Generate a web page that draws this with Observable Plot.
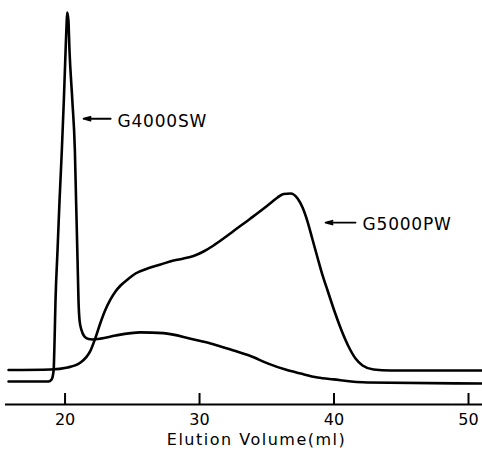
<!DOCTYPE html>
<html>
<head>
<meta charset="utf-8">
<script src="https://cdn.jsdelivr.net/npm/d3@7"></script>
<script src="https://cdn.jsdelivr.net/npm/@observablehq/plot@0.6"></script>
<style>
  html, body { margin: 0; padding: 0; background: #fff; }
  svg { display: block; }
</style>
</head>
<body>
<div id="chart"></div>
<script>
// Elution volume (ml) and detector response (arbitrary units)
const g4000swVolume = [15.80, 18.77, 19.00, 19.15, 19.22, 19.29, 19.44, 19.59, 19.76, 19.91, 20.04, 20.11, 20.16, 20.25, 20.33, 20.54, 20.73, 20.82, 20.93, 21.00, 21.08, 21.23, 21.45, 21.75, 22.04, 22.64, 23.75, 25.61, 27.32, 29.33, 30.07, 30.82, 31.56, 32.53, 33.79, 35.06, 36.39, 37.51, 38.77, 39.96, 42.49, 51.04];
const g4000swResponse = [5.87, 5.87, 6.38, 8.67, 16.3, 26.5, 39.3, 52.0, 64.8, 77.6, 90.3, 96.7, 100, 98.0, 90.3, 77.6, 64.8, 52.0, 36.7, 26.5, 21.4, 18.9, 17.3, 16.7, 16.6, 16.8, 17.6, 18.4, 18.2, 16.8, 16.2, 15.56, 14.8, 13.8, 12.37, 10.5, 8.9, 7.9, 6.9, 6.4, 5.6, 5.36];

const g5000pwVolume = [15.80, 18.92, 20.19, 21.15, 21.90, 22.27, 22.64, 23.01, 23.38, 23.75, 24.13, 24.65, 25.24, 26.13, 27.10, 28.07, 28.81, 29.55, 30.30, 31.04, 31.78, 32.53, 33.79, 35.06, 35.80, 36.25, 36.77, 37.29, 37.66, 38.03, 38.40, 38.77, 39.15, 39.52, 40.04, 40.56, 41.08, 41.60, 42.12, 42.94, 44.20, 51.04];
const g5000pwResponse = [8.8, 8.93, 9.44, 10.7, 13.8, 17.09, 20.92, 24.23, 26.79, 28.83, 30.36, 31.89, 33.42, 34.69, 35.71, 36.73, 37.24, 37.88, 39.03, 40.56, 42.35, 44.26, 47.45, 50.77, 52.81, 53.70, 53.83, 52.55, 50.26, 46.68, 42.09, 37.50, 32.91, 29.08, 23.72, 18.88, 14.80, 11.73, 9.95, 8.93, 8.67, 8.67];

// Axis ticks
const tickValues = [20, 30, 40, 50];
const axisTitle = "Elution Volume(ml)";

// Curve labels with pointer arrows
const labelNames = ["G4000SW", "G5000PW"];
const labelVolume = [23.90, 42.12];
const labelResponse = [72.1, 45.9];
const arrowFromVolume = [23.39, 41.60];
const arrowToVolume = [21.38, 39.37];
const arrowResponse = [72.9, 46.4];

const toRows = (xs, ys) => xs.map((x, i) => ({volume: x, response: ys[i]}));
const g4000sw = toRows(g4000swVolume, g4000swResponse);
const g5000pw = toRows(g5000pwVolume, g5000pwResponse);
const labels = labelNames.map((name, i) => ({
  name, volume: labelVolume[i], response: labelResponse[i],
  x1: arrowFromVolume[i], x2: arrowToVolume[i], y: arrowResponse[i]
}));

const font = "'DejaVu Sans', sans-serif";

const chart = Plot.plot({
  width: 482,
  height: 450,
  marginTop: 12,
  marginBottom: 46,
  marginLeft: 0,
  marginRight: 0,
  style: {background: "#fff", color: "#000", fontFamily: font},
  x: {domain: [15.2, 51.04], axis: null},
  y: {domain: [0, 100], axis: null},
  marks: [
    // baseline axis
    Plot.ruleY([0], {x1: 15.57, x2: 51.04, stroke: "#000", strokeWidth: 2.2}),
    // ticks pointing up
    Plot.ruleX(tickValues, {y1: 0, y2: 2.8, stroke: "#000", strokeWidth: 2}),
    Plot.axisX({
      ticks: tickValues,
      tickSize: 0,
      tickPadding: 9,
      fontSize: 16,
      tickFormat: d => String(d),
      label: null
    }),
    Plot.text([axisTitle], {
      frameAnchor: "bottom",
      dx: 15,
      dy: 40,
      fontSize: 16,
      fill: "#000"
    }),
    Plot.line(g4000sw, {x: "volume", y: "response", stroke: "#000", strokeWidth: 2.6, curve: "monotone-x"}),
    Plot.line(g5000pw, {x: "volume", y: "response", stroke: "#000", strokeWidth: 2.6, curve: "monotone-x"}),
    Plot.arrow(labels, {x1: "x1", x2: "x2", y1: "y", y2: "y", stroke: "#000", strokeWidth: 1.8, headLength: 6, headAngle: 30}),
    Plot.text(labels, {x: "volume", y: "response", text: "name", textAnchor: "start", fontSize: 17, fill: "#000"})
  ]
});

// letter spacing tweaks to match the spaced-out typography
d3.select(chart).selectAll("text")
  .filter(function() { return this.textContent === axisTitle; })
  .style("letter-spacing", "1.5px");
d3.select(chart).selectAll("text")
  .filter(function() { return labelNames.includes(this.textContent); })
  .style("letter-spacing", "0.8px");

document.getElementById("chart").appendChild(chart);
</script>
</body>
</html>
